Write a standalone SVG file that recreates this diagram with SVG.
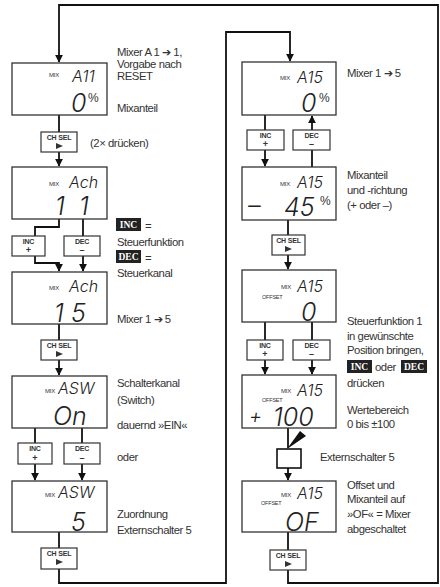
<svg xmlns="http://www.w3.org/2000/svg" width="440" height="587" viewBox="0 0 440 587">
<style>
.bg{fill:#fff}
.box{fill:#fff;stroke:#333;stroke-width:1.3}
.btn{fill:#fff;stroke:#333;stroke-width:1.2}
.ln{fill:none;stroke:#111;stroke-width:1.8}
.lbl{font-family:"Liberation Sans",Arial,sans-serif;font-size:11.3px;letter-spacing:-0.45px;fill:#333}
.mix{font-family:"Liberation Sans",sans-serif;font-size:6px;letter-spacing:-0.2px;fill:#333}
.off{font-family:"Liberation Sans",sans-serif;font-size:5.5px;letter-spacing:-0.2px;fill:#333}
.seg{font-family:Inter,"DejaVu Sans",sans-serif;font-style:italic;font-weight:300;fill:#222;font-size:16px}
.big{font-family:Inter,"DejaVu Sans",sans-serif;font-style:italic;font-weight:300;fill:#222;font-size:25px}
.pct{font-family:"Liberation Sans",sans-serif;font-size:12px;fill:#333}
.bt{font-family:"Liberation Sans",sans-serif;font-size:7px;letter-spacing:-0.2px;font-weight:bold;fill:#333;text-anchor:middle}
.bs{font-family:"Liberation Sans",sans-serif;font-size:9px;font-weight:bold;fill:#333;text-anchor:middle}
.badge{fill:#222}
.bw{font-family:"Liberation Serif",serif;font-size:9.5px;font-weight:bold;fill:#fff;text-anchor:middle}
</style>
<defs>
<marker id="ah" viewBox="0 0 10 10" refX="9" refY="5" markerWidth="4.5" markerHeight="4.5" orient="auto" markerUnits="strokeWidth">
<path d="M0,0 L10,5 L0,10 z" fill="#111"/>
</marker>
<polygon id="play" points="0,0 7,3 0,6" fill="#333"/>
</defs>
<rect class="bg" x="0" y="0" width="440" height="587"/>

<g id="connectors">
<path class="ln" d="M288,570 V583 H438 V5 H59 V62" marker-end="url(#ah)"/>
<path class="ln" d="M59,115 V132"/>
<path class="ln" d="M59,152 V166" marker-end="url(#ah)"/>
<path class="ln" d="M59,219 V227 H35 V236"/>
<path class="ln" d="M83,219 V236"/>
<path class="ln" d="M35,256 V263 H59 V271" marker-end="url(#ah)"/>
<path class="ln" d="M59,272 V297" marker-end="url(#ah)"/>
<path class="ln" d="M83,256 V271" marker-end="url(#ah)"/>
<path class="ln" d="M83,272 V297" marker-end="url(#ah)"/>
<path class="ln" d="M59,324 V340"/>
<path class="ln" d="M59,360 V375" marker-end="url(#ah)"/>
<path class="ln" d="M35,428 V443"/>
<path class="ln" d="M82,428 V443"/>
<path class="ln" d="M35,464 V480" marker-end="url(#ah)"/>
<path class="ln" d="M82,464 V480" marker-end="url(#ah)"/>
<path class="ln" d="M59,532 V548"/>
<path class="ln" d="M59,569 V583 H226 V32 H290 V61" marker-end="url(#ah)"/>
<path class="ln" d="M265,115 V130"/>
<path class="ln" d="M265,150 V166" marker-end="url(#ah)"/>
<path class="ln" d="M312,167 V150"/>
<path class="ln" d="M312,130 V116" marker-end="url(#ah)"/>
<path class="ln" d="M288,220 V235"/>
<path class="ln" d="M288,255 V269" marker-end="url(#ah)"/>
<path class="ln" d="M265,322 V340"/>
<path class="ln" d="M312,322 V340"/>
<path class="ln" d="M265,360 V374" marker-end="url(#ah)"/>
<path class="ln" d="M312,360 V374" marker-end="url(#ah)"/>
<path class="ln" d="M288,428 V448"/>
<polygon points="287,449 300,431 306,436" fill="#111"/>
<path class="ln" d="M288,468 V480" marker-end="url(#ah)"/>
<path class="ln" d="M288,532 V550"/>
</g>

<!-- Left column -->
<g id="b1">
<rect class="box" x="12" y="63" width="95" height="52"/>
<text class="mix" x="49" y="77">MIX</text>
<text class="seg" x="72" y="82">A11</text>
<text class="big" x="71" y="112">0</text>
<text class="pct" x="88" y="102">%</text>
</g>
<g id="b2">
<rect class="box" x="12" y="167" width="95" height="52"/>
<text class="mix" x="49" y="186">MIX</text>
<text class="seg" x="69" y="188">Ach</text>
<text class="big" x="55" y="215">1</text>
<text class="big" x="79" y="215">1</text>
</g>
<g id="b3">
<rect class="box" x="12" y="272" width="95" height="52" fill="none"/>
<text class="mix" x="49" y="290">MIX</text>
<text class="seg" x="69" y="292">Ach</text>
<text class="big" x="54" y="322">1</text>
<text class="big" x="71" y="322">5</text>
</g>
<g id="b4">
<rect class="box" x="12" y="376" width="95" height="52"/>
<text class="mix" x="45" y="393">MIX</text>
<text class="seg" x="58" y="394">ASW</text>
<text class="big" x="53" y="425">On</text>
</g>
<g id="b5">
<rect class="box" x="12" y="481" width="95" height="51"/>
<text class="mix" x="45" y="497">MIX</text>
<text class="seg" x="58" y="498">ASW</text>
<text class="big" x="71" y="531">5</text>
</g>
<g id="chsel1">
<rect class="btn" x="41" y="132" width="36" height="20"/>
<text class="bt" x="59" y="140">CH SEL</text>
<use href="#play" x="56" y="143"/>
</g>
<g id="inc1">
<rect class="btn" x="12" y="236" width="33" height="20"/>
<text class="bt" x="28.5" y="244">INC</text>
<text class="bs" x="28.5" y="253">+</text>
</g>
<g id="dec1">
<rect class="btn" x="64" y="236" width="36" height="20"/>
<text class="bt" x="82" y="244">DEC</text>
<text class="bs" x="82" y="253">–</text>
</g>
<g id="chsel2">
<rect class="btn" x="41" y="340" width="36" height="20"/>
<text class="bt" x="59" y="348">CH SEL</text>
<use href="#play" x="56" y="351"/>
</g>
<g id="inc2">
<rect class="btn" x="18" y="443" width="34" height="21"/>
<text class="bt" x="35" y="451">INC</text>
<text class="bs" x="35" y="461">+</text>
</g>
<g id="dec2">
<rect class="btn" x="64" y="443" width="36" height="21"/>
<text class="bt" x="82" y="451">DEC</text>
<text class="bs" x="82" y="461">–</text>
</g>
<g id="chsel3">
<rect class="btn" x="41" y="548" width="36" height="21"/>
<text class="bt" x="59" y="556">CH SEL</text>
<use href="#play" x="56" y="559"/>
</g>

<!-- Right column -->
<g id="r1">
<rect class="box" x="242" y="62" width="94" height="53"/>
<text class="mix" x="280" y="80">MIX</text>
<text class="seg" x="297" y="83">A15</text>
<text class="big" x="301" y="112">0</text>
<text class="pct" x="319" y="102">%</text>
</g>
<g id="r2">
<rect class="box" x="242" y="167" width="94" height="53"/>
<text class="mix" x="280" y="186">MIX</text>
<text class="seg" x="297" y="188">A15</text>
<text class="big" x="248" y="214">–</text>
<text class="big" x="284" y="216">45</text>
<text class="pct" x="320" y="205">%</text>
</g>
<g id="r3">
<rect class="box" x="242" y="270" width="94" height="52"/>
<text class="mix" x="281" y="289">MIX</text>
<text class="seg" x="297" y="292">A15</text>
<text class="off" x="262" y="299">OFFSET</text>
<text class="big" x="301" y="321">0</text>
</g>
<g id="r4">
<rect class="box" x="242" y="375" width="94" height="53"/>
<text class="mix" x="281" y="393">MIX</text>
<text class="seg" x="297" y="396">A15</text>
<text class="off" x="262" y="402">OFFSET</text>
<text class="big" x="249" y="423" style="font-size:20px">+</text>
<text class="big" x="273" y="426">100</text>
</g>
<g id="r5">
<rect class="box" x="242" y="481" width="94" height="51"/>
<text class="mix" x="281" y="497">MIX</text>
<text class="seg" x="297" y="499">A15</text>
<text class="off" x="261" y="505">OFFSET</text>
<text class="big" x="285" y="531">OF</text>
</g>
<g id="inc3">
<rect class="btn" x="247" y="130" width="37" height="20"/>
<text class="bt" x="265.5" y="138">INC</text>
<text class="bs" x="265.5" y="147">+</text>
</g>
<g id="dec3">
<rect class="btn" x="293" y="130" width="37" height="20"/>
<text class="bt" x="311.5" y="138">DEC</text>
<text class="bs" x="311.5" y="147">–</text>
</g>
<g id="chsel4">
<rect class="btn" x="272" y="235" width="33" height="20"/>
<text class="bt" x="288.5" y="243">CH SEL</text>
<use href="#play" x="285" y="246"/>
</g>
<g id="inc4">
<rect class="btn" x="247" y="340" width="36" height="20"/>
<text class="bt" x="265" y="348">INC</text>
<text class="bs" x="265" y="357">+</text>
</g>
<g id="dec4">
<rect class="btn" x="293" y="340" width="37" height="20"/>
<text class="bt" x="311.5" y="348">DEC</text>
<text class="bs" x="311.5" y="357">–</text>
</g>
<g id="switch5">
<rect class="btn" x="277" y="449" width="24" height="19" style="stroke-width:1.6;stroke:#111"/>
</g>
<g id="chsel5">
<rect class="btn" x="270" y="550" width="36" height="20"/>
<text class="bt" x="288" y="558">CH SEL</text>
<use href="#play" x="285" y="561"/>
</g>

<!-- Labels -->
<g id="labels">
<text class="lbl" x="117" y="56">Mixer A 1 ➔ 1,</text>
<text class="lbl" x="117" y="68">Vorgabe nach</text>
<text class="lbl" x="117" y="80">RESET</text>
<text class="lbl" x="117" y="112">Mixanteil</text>
<text class="lbl" x="90" y="147">(2× drücken)</text>
<rect class="badge" x="116" y="218" width="25" height="13"/>
<text class="bw" x="128.5" y="228">INC</text>
<text class="lbl" x="145" y="230">=</text>
<text class="lbl" x="117" y="246">Steuerfunktion</text>
<rect class="badge" x="116" y="250" width="25" height="13"/>
<text class="bw" x="128.5" y="260">DEC</text>
<text class="lbl" x="145" y="262">=</text>
<text class="lbl" x="117" y="277">Steuerkanal</text>
<text class="lbl" x="117" y="323">Mixer 1 ➔ 5</text>
<text class="lbl" x="117" y="387">Schalterkanal</text>
<text class="lbl" x="117" y="404">(Switch)</text>
<text class="lbl" x="117" y="429">dauernd »EIN«</text>
<text class="lbl" x="117" y="461">oder</text>
<text class="lbl" x="117" y="518">Zuordnung</text>
<text class="lbl" x="117" y="534">Externschalter 5</text>

<text class="lbl" x="347" y="77">Mixer 1 ➔ 5</text>
<text class="lbl" x="347" y="179">Mixanteil</text>
<text class="lbl" x="347" y="194">und -richtung</text>
<text class="lbl" x="347" y="209">(+ oder –)</text>
<text class="lbl" x="347" y="325">Steuerfunktion 1</text>
<text class="lbl" x="347" y="340">in gewünschte</text>
<text class="lbl" x="347" y="354">Position bringen,</text>
<rect class="badge" x="347" y="360" width="25" height="13"/>
<text class="bw" x="359.5" y="370">INC</text>
<text class="lbl" x="375" y="371">oder</text>
<rect class="badge" x="401" y="360" width="26" height="13"/>
<text class="bw" x="414" y="370">DEC</text>
<text class="lbl" x="347" y="387">drücken</text>
<text class="lbl" x="347" y="414">Wertebereich</text>
<text class="lbl" x="347" y="428">0 bis ±100</text>
<text class="lbl" x="320" y="461">Externschalter 5</text>
<text class="lbl" x="347" y="489">Offset und</text>
<text class="lbl" x="347" y="503">Mixanteil auf</text>
<text class="lbl" x="347" y="518">»OF« = Mixer</text>
<text class="lbl" x="347" y="533">abgeschaltet</text>
</g>
</svg>
